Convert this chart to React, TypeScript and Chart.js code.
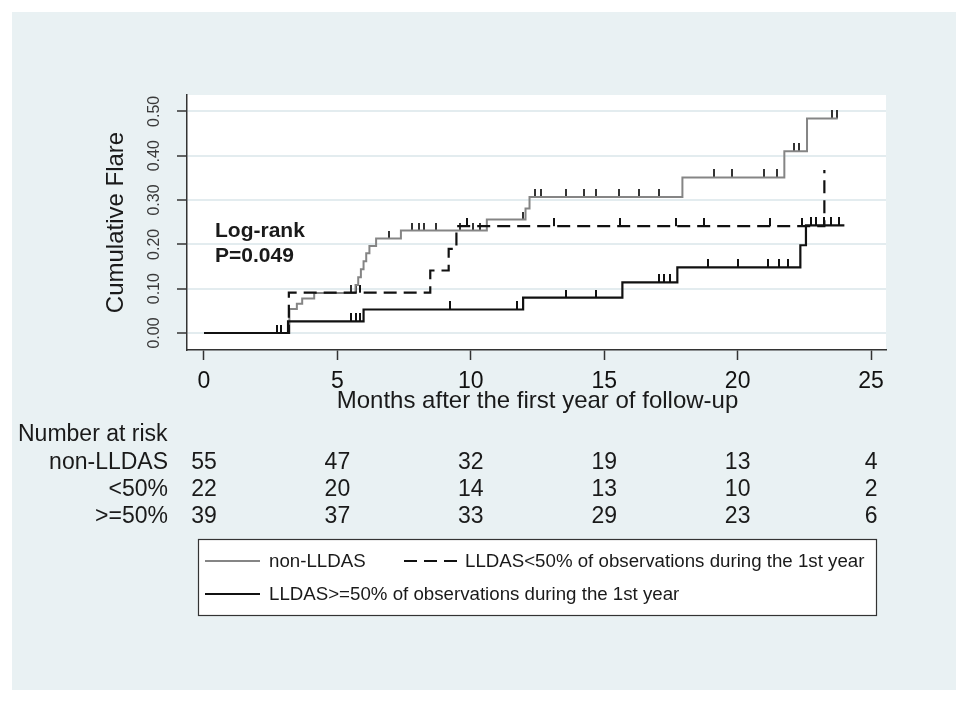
import React, { useEffect, useRef } from "react";
import { Chart, registerables } from "chart.js";

Chart.register(...registerables);

const FONT = "'Liberation Sans', Arial, Helvetica, sans-serif";

// ---- tick labels ----
const xTickValues = [0, 5, 10, 15, 20, 25];
const xTickLabels = ["0", "5", "10", "15", "20", "25"];
const yTickValues = [0, 0.1, 0.2, 0.3, 0.4, 0.5];
const yTickLabels = ["0.00", "0.10", "0.20", "0.30", "0.40", "0.50"];

// ---- Kaplan-Meier style step data (time in months, cumulative flare) ----
const nonTimes = [0, 3.2, 3.48, 3.68, 4.13, 5.68, 5.78, 5.88, 5.98, 6.08, 6.2, 6.45, 7.38, 10.6, 12.05, 12.2, 17.93, 21.75, 22.6, 23.75];
const nonValues = [0, 0.054, 0.066, 0.078, 0.09, 0.108, 0.126, 0.144, 0.162, 0.18, 0.196, 0.213, 0.231, 0.256, 0.281, 0.307, 0.351, 0.41, 0.484, 0.484];
const nonCensor = [5.52, 6.92, 7.8, 8.04, 8.23, 8.7, 9.6, 10.1, 10.35, 11.96, 12.4, 12.62, 13.55, 14.24, 14.7, 15.55, 16.3, 17.05, 19.1, 19.8, 20.97, 21.47, 22.12, 22.3, 23.54, 23.72];

const lowTimes = [0, 3.18, 8.48, 9.17, 9.46, 23.25];
const lowValues = [0, 0.091, 0.141, 0.19, 0.241, 0.368];
const lowCensor = [5.7, 5.86, 9.86, 13.1, 15.6, 17.7, 18.75, 21.2, 22.4];

const highTimes = [0, 3.15, 5.98, 11.96, 15.68, 17.74, 22.35, 22.56, 24.0];
const highValues = [0, 0.026, 0.053, 0.08, 0.114, 0.148, 0.198, 0.243, 0.243];
const highCensor = [2.73, 2.88, 5.5, 5.7, 5.86, 9.21, 11.74, 13.58, 14.71, 17.05, 17.24, 17.46, 18.9, 20.0, 21.15, 21.56, 21.87, 22.75, 22.94, 23.25, 23.5, 23.8];

// ---- number at risk ----
const riskGroups = ["non-LLDAS", "<50%", ">=50%"];
const riskNon = [55, 47, 32, 19, 13, 4];
const riskLow = [22, 20, 14, 13, 10, 2];
const riskHigh = [39, 37, 33, 29, 23, 6];

// ---- texts ----
const seriesLabels = [
  "non-LLDAS",
  "LLDAS<50% of observations during the 1st year",
  "LLDAS>=50% of observations during the 1st year",
];
const yTitle = "Cumulative Flare";
const xTitle = "Months after the first year of follow-up";
const riskTitle = "Number at risk";
const logRankLines = ["Log-rank", "P=0.049"];

const GRAY = "#858585";
const BLACK = "#111111";
const PANEL = "#e9f1f3";
const GRID = "#e3ecef";

function toPoints(times: number[], values: number[]) {
  return times.map((t, i) => ({ x: t, y: values[i] }));
}

function valueAt(times: number[], values: number[], t: number) {
  let v = values[0];
  for (let i = 0; i < times.length; i++) if (times[i] <= t) v = values[i];
  return v;
}

function censorPoints(c: number[], times: number[], values: number[]) {
  return c.map((t) => ({ x: t, y: valueAt(times, values, t) }));
}

function makeTick(color: string) {
  const c = document.createElement("canvas");
  c.width = 2;
  c.height = 16;
  const g = c.getContext("2d")!;
  g.fillStyle = color;
  g.fillRect(0, 0, 2, 8);
  return c;
}

const decor = {
  id: "decor",
  beforeDraw(chart: any) {
    const { ctx, chartArea: a } = chart;
    ctx.save();
    ctx.fillStyle = "#ffffff";
    ctx.fillRect(0, 0, chart.width, chart.height);
    ctx.fillStyle = PANEL;
    ctx.fillRect(12, 12, 944, 678);
    ctx.fillStyle = "#ffffff";
    ctx.fillRect(a.left, a.top, a.right - a.left, a.bottom - a.top);
    ctx.restore();
  },
  afterDraw(chart: any) {
    const { ctx, chartArea: a } = chart;
    const xs = chart.scales.x;
    ctx.save();
    ctx.fillStyle = "#1a1a1a";

    // y title
    ctx.font = `24px ${FONT}`;
    ctx.save();
    ctx.translate(123, (a.top + a.bottom) / 2);
    ctx.rotate(-Math.PI / 2);
    ctx.textAlign = "center";
    ctx.textBaseline = "alphabetic";
    ctx.fillText(yTitle, 0, 0);
    ctx.restore();

    // x title
    ctx.textAlign = "center";
    ctx.textBaseline = "alphabetic";
    ctx.fillText(xTitle, (a.left + a.right) / 2 + 1, 408);

    // number at risk
    ctx.font = `23px ${FONT}`;
    ctx.textAlign = "left";
    ctx.fillText(riskTitle, 18, 441);
    const rows = [riskNon, riskLow, riskHigh];
    const baselines = [469, 496, 523];
    rows.forEach((row, r) => {
      ctx.textAlign = "right";
      ctx.fillText(riskGroups[r], 168, baselines[r]);
      ctx.textAlign = "center";
      row.forEach((n, i) => {
        ctx.fillText(String(n), xs.getPixelForValue(xTickValues[i]), baselines[r]);
      });
    });

    // log-rank annotation
    ctx.font = `bold 21px ${FONT}`;
    ctx.textAlign = "left";
    ctx.fillText(logRankLines[0], 215, 237);
    ctx.fillText(logRankLines[1], 215, 262);

    // legend box
    const bx = 198, by = 539, bw = 678, bh = 76;
    ctx.fillStyle = "#ffffff";
    ctx.fillRect(bx, by, bw, bh);
    ctx.strokeStyle = "#333";
    ctx.lineWidth = 1.2;
    ctx.strokeRect(bx + 0.5, by + 0.5, bw, bh);

    const r1 = 561, r2 = 594;
    ctx.lineWidth = 2;
    ctx.strokeStyle = GRAY;
    ctx.beginPath(); ctx.moveTo(205, r1); ctx.lineTo(260, r1); ctx.stroke();
    ctx.strokeStyle = BLACK;
    ctx.setLineDash([13, 7]);
    ctx.beginPath(); ctx.moveTo(404, r1); ctx.lineTo(457, r1); ctx.stroke();
    ctx.setLineDash([]);
    ctx.lineWidth = 2.2;
    ctx.beginPath(); ctx.moveTo(205, r2); ctx.lineTo(260, r2); ctx.stroke();

    ctx.fillStyle = "#1a1a1a";
    ctx.font = `18.7px ${FONT}`;
    ctx.textAlign = "left";
    ctx.textBaseline = "middle";
    ctx.fillText(seriesLabels[0], 269, r1 + 1);
    ctx.fillText(seriesLabels[1], 465, r1 + 1);
    ctx.fillText(seriesLabels[2], 269, r2 + 1);
    ctx.restore();
  },
};

export default function App() {
  const ref = useRef<HTMLCanvasElement>(null);

  useEffect(() => {
    const canvas = ref.current!;
    const tickBlack = makeTick(BLACK);
    const tickGray = makeTick("#333333");

    const chart = new Chart(canvas, {
      type: "line",
      data: {
        datasets: [
          {
            label: seriesLabels[2],
            data: toPoints(highTimes, highValues),
            borderColor: BLACK,
            borderWidth: 2.2,
            pointRadius: 0,
            stepped: "before",
            fill: false,
          } as any,
          {
            label: seriesLabels[1],
            data: toPoints(lowTimes, lowValues),
            borderColor: BLACK,
            borderWidth: 2.2,
            borderDash: [13, 7],
            pointRadius: 0,
            stepped: "before",
            fill: false,
          },
          {
            label: seriesLabels[0],
            data: toPoints(nonTimes, nonValues),
            borderColor: GRAY,
            borderWidth: 2,
            pointRadius: 0,
            stepped: "before",
            fill: false,
          },
          {
            label: "censor-high",
            data: censorPoints(highCensor, highTimes, highValues),
            showLine: false,
            pointStyle: tickBlack,
            pointRadius: 4,
            borderWidth: 0,
          },
          {
            label: "censor-low",
            data: censorPoints(lowCensor, lowTimes, lowValues),
            showLine: false,
            pointStyle: tickBlack,
            pointRadius: 4,
            borderWidth: 0,
          },
          {
            label: "censor-non",
            data: censorPoints(nonCensor, nonTimes, nonValues),
            showLine: false,
            pointStyle: tickGray,
            pointRadius: 4,
            borderWidth: 0,
          },
        ],
      },
      options: {
        animation: false,
        responsive: false,
        maintainAspectRatio: false,
        devicePixelRatio: 1,
        layout: { padding: { left: 0, top: 95, right: 82, bottom: 0 } },
        plugins: {
          legend: { display: false },
          tooltip: { enabled: false },
        },
        scales: {
          x: {
            type: "linear",
            min: -0.637,
            max: 25.56,
            afterBuildTicks: (s: any) => {
              s.ticks = xTickValues.map((v) => ({ value: v }));
            },
            afterFit: (s: any) => {
              s.height = 351;
            },
            grid: {
              drawOnChartArea: false,
              drawTicks: true,
              tickLength: 10,
              tickColor: "#333",
              tickWidth: 1.5,
            },
            border: { display: true, color: "#333", width: 1.5 },
            ticks: {
              autoSkip: false,
              maxRotation: 0,
              minRotation: 0,
              padding: 8,
              color: "#111",
              font: { family: FONT, size: 23 },
              callback: (_v: any, i: number) => xTickLabels[i],
            },
          },
          y: {
            type: "linear",
            min: -0.0384,
            max: 0.537,
            afterBuildTicks: (s: any) => {
              s.ticks = yTickValues.map((v) => ({ value: v }));
            },
            afterFit: (s: any) => {
              s.width = 187;
            },
            grid: {
              color: GRID,
              lineWidth: 2,
              drawTicks: true,
              tickLength: 10,
              tickColor: "#333",
              tickWidth: 1.5,
            },
            border: { display: true, color: "#333", width: 1.5 },
            ticks: {
              autoSkip: false,
              minRotation: 90,
              maxRotation: 90,
              crossAlign: "center",
              padding: 7,
              color: "#3a3a3a",
              font: { family: FONT, size: 16 },
              callback: (_v: any, i: number) => yTickLabels[i],
            },
          },
        },
      },
      plugins: [decor],
    } as any);

    return () => chart.destroy();
  }, []);

  return (
    <div style={{ position: "fixed", left: 0, top: 0, width: 968, height: 701 }}>
      <canvas ref={ref} width={968} height={701} style={{ display: "block", width: 968, height: 701 }} />
    </div>
  );
}
